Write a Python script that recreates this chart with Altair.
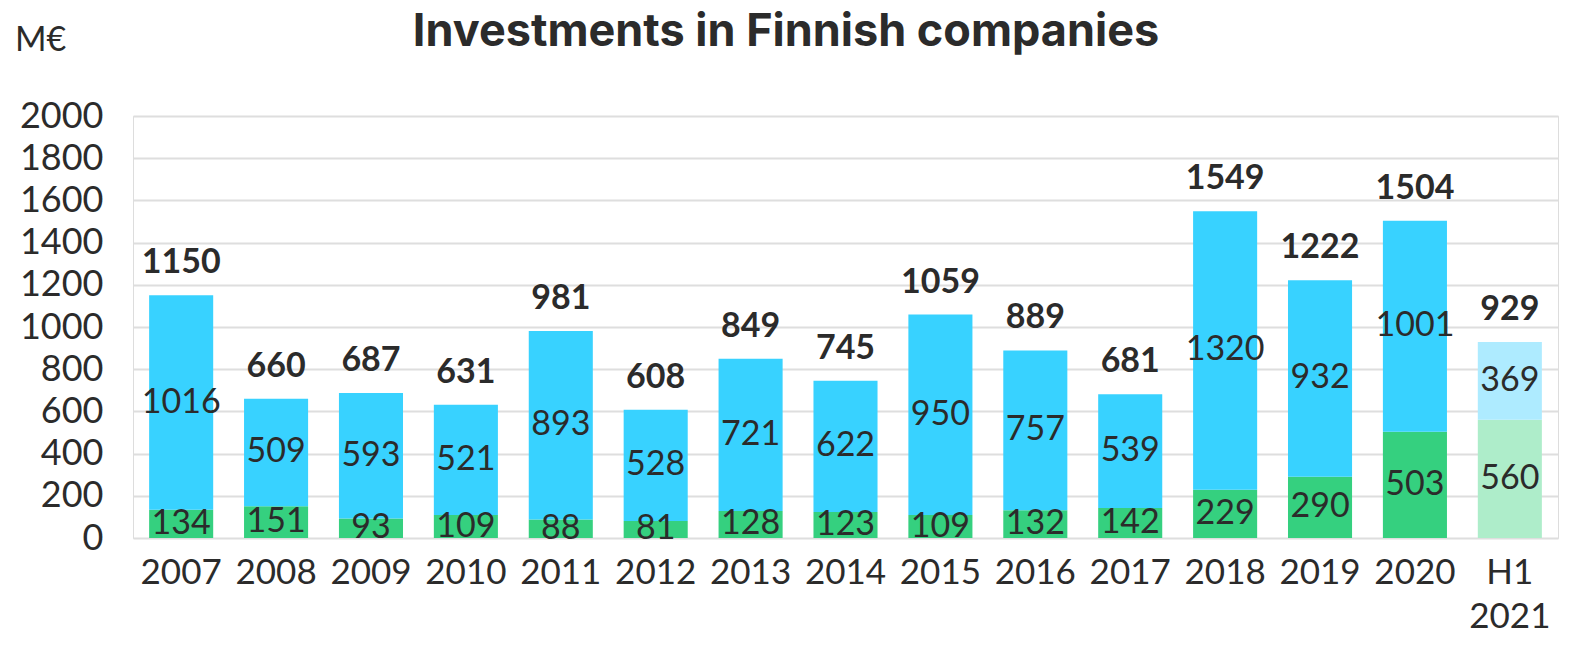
import altair as alt
import pandas as pd

years = ["2007", "2008", "2009", "2010", "2011", "2012", "2013", "2014",
         "2015", "2016", "2017", "2018", "2019", "2020", "H1 2021"]
green = [134, 151, 93, 109, 88, 81, 128, 123, 109, 132, 142, 229, 290, 503, 560]
blue = [1016, 509, 593, 521, 893, 528, 721, 622, 950, 757, 539, 1320, 932, 1001, 369]
totals = [1150, 660, 687, 631, 981, 608, 849, 745, 1059, 889, 681, 1549, 1222, 1504, 929]

rows = []
for i, y in enumerate(years):
    last = (y == "H1 2021")
    g, b, t = green[i], blue[i], totals[i]
    rows.append({"year": y, "val": g, "y0": 0, "y1": g, "mid": g / 2,
                 "key": "gl" if last else "g"})
    rows.append({"year": y, "val": b, "y0": g, "y1": t, "mid": g + (t - g) / 2,
                 "key": "bl" if last else "b"})
df = pd.DataFrame(rows)
tdf = pd.DataFrame({"year": years, "total": totals})

FONT = "Lato"
TXT = "#2b2b2b"

xenc = alt.X("year:N", sort=years, title=None,
             scale=alt.Scale(paddingInner=0.325, paddingOuter=0.17),
             axis=alt.Axis(labelAngle=0, labelFontSize=35, labelFont=FONT,
                           labelColor=TXT, ticks=False, domain=False,
                           labelPadding=17, labelBaseline="top",
                           labelLineHeight=44,
                           labelExpr="datum.label == 'H1 2021' ? ['H1', '2021'] : datum.label"))

yscale = alt.Scale(domain=[0, 2000])

bars = alt.Chart(df).mark_bar().encode(
    x=xenc,
    y=alt.Y("y0:Q", scale=yscale, title=None,
            axis=alt.Axis(values=list(range(0, 2001, 200)), format="d",
                          labelFontSize=36,
                          labelFont=FONT, labelColor=TXT, ticks=False,
                          domain=False, labelPadding=30, gridColor="#dedede",
                          gridWidth=2)),
    y2="y1:Q",
    color=alt.Color("key:N", legend=None,
                    scale=alt.Scale(domain=["g", "b", "gl", "bl"],
                                    range=["#35D07F", "#38D2FF", "#AEEDCA", "#AEEBFF"])),
)

seglabels = alt.Chart(df).mark_text(fontSize=34, font=FONT, color=TXT,
                                    baseline="middle").encode(
    x=alt.X("year:N", sort=years),
    y=alt.Y("mid:Q", scale=yscale),
    text="val:Q",
)

totlabels = alt.Chart(tdf).mark_text(fontSize=34, font=FONT, fontWeight="bold",
                                     color=TXT, baseline="middle", dy=-32).encode(
    x=alt.X("year:N", sort=years),
    y=alt.Y("total:Q", scale=yscale),
    text="total:Q",
)

title = alt.Chart(pd.DataFrame({"t": ["Investments in Finnish companies"]})).mark_text(
    fontSize=45, font="Inter", fontWeight="bold", color=TXT, baseline="middle",
    align="center").encode(x=alt.value(653), y=alt.value(-84), text="t:N")

unit = alt.Chart(pd.DataFrame({"t": ["M€"]})).mark_text(
    fontSize=34, font=FONT, color=TXT, baseline="middle", align="left").encode(
    x=alt.value(-118), y=alt.value(-75), text="t:N")

chart = alt.layer(bars, seglabels, totlabels, title, unit).properties(
    width=1425, height=422,
    autosize=alt.AutoSizeParams(type="none"),
    padding={"left": 125, "top": 108, "right": 10, "bottom": 100},
).configure_view(stroke=None).configure(background="white")

chart.save("out.html", embed_options={"renderer": "svg", "actions": False})
